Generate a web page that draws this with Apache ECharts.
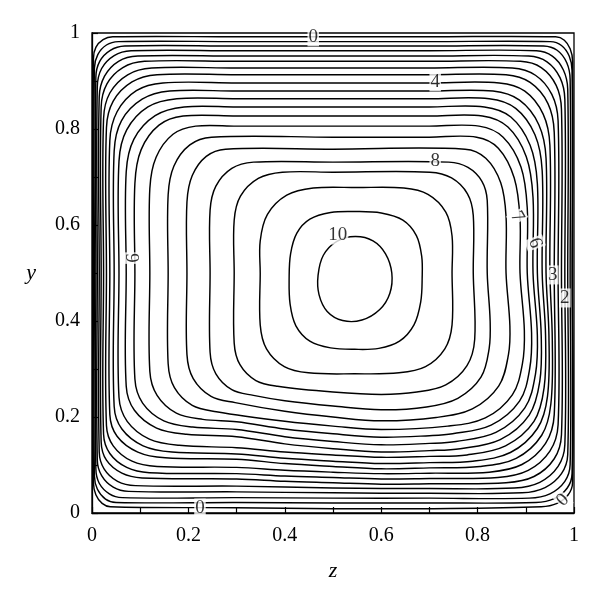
<!DOCTYPE html>
<html><head><meta charset="utf-8">
<script src="https://cdn.jsdelivr.net/npm/echarts@6/dist/echarts.min.js"></script>
<style>html,body{margin:0;padding:0;background:#fff}#c{width:600px;height:603px}</style>
</head><body><div id="c"></div>
<script>
// contour levels (velocity) and the traced contour loops, points are [z, y]
const levels = [0,0.5,1,1.5,2,2.5,3,3.5,4,4.5,5,5.5,6,6.5,7,7.5,8,8.5,9,9.5,10];
const c00 = [[0.5,0.992],[0.7,0.992],[0.962,0.992],[0.98,0.985],[0.992,0.967],[0.997,0.942],[0.997,0.5],[0.997,0.063],[0.988,0.038],[0.965,0.02],[0.932,0.013],[0.7,0.009],[0.5,0.009],[0.3,0.011],[0.038,0.013],[0.021,0.02],[0.008,0.038],[0.003,0.063],[0.003,0.5],[0.003,0.947],[0.008,0.97],[0.023,0.986],[0.043,0.992],[0.3,0.992]];
const c05 = [[0.5,0.982],[0.7,0.982],[0.951,0.982],[0.974,0.974],[0.99,0.952],[0.996,0.922],[0.996,0.5],[0.996,0.082],[0.986,0.052],[0.959,0.03],[0.921,0.022],[0.7,0.021],[0.5,0.021],[0.3,0.022],[0.05,0.022],[0.028,0.029],[0.011,0.05],[0.005,0.077],[0.005,0.5],[0.005,0.927],[0.012,0.955],[0.03,0.975],[0.055,0.982],[0.3,0.982]];
const c10 = [[0.5,0.973],[0.7,0.973],[0.937,0.973],[0.965,0.964],[0.985,0.938],[0.992,0.903],[0.992,0.5],[0.992,0.101],[0.981,0.066],[0.95,0.04],[0.907,0.031],[0.7,0.031],[0.5,0.031],[0.3,0.032],[0.063,0.032],[0.036,0.04],[0.015,0.062],[0.008,0.092],[0.008,0.5],[0.008,0.908],[0.016,0.941],[0.038,0.964],[0.068,0.973],[0.3,0.973]];
const c15 = [[0.5,0.963],[0.7,0.963],[0.922,0.963],[0.955,0.952],[0.978,0.923],[0.987,0.883],[0.987,0.5],[0.987,0.122],[0.974,0.082],[0.94,0.053],[0.892,0.042],[0.7,0.041],[0.5,0.042],[0.3,0.044],[0.076,0.045],[0.044,0.054],[0.02,0.078],[0.011,0.11],[0.011,0.5],[0.011,0.888],[0.02,0.926],[0.046,0.953],[0.081,0.963],[0.3,0.963]];
const c20 = [[0.5,0.952],[0.7,0.952],[0.906,0.952],[0.944,0.94],[0.971,0.907],[0.981,0.862],[0.981,0.5],[0.981,0.142],[0.967,0.097],[0.929,0.064],[0.876,0.052],[0.7,0.051],[0.5,0.052],[0.3,0.056],[0.09,0.057],[0.053,0.066],[0.025,0.092],[0.015,0.127],[0.015,0.5],[0.015,0.867],[0.026,0.91],[0.055,0.941],[0.095,0.952],[0.3,0.952]];
const c25 = [[0.5,0.941],[0.7,0.941],[0.889,0.941],[0.932,0.928],[0.963,0.891],[0.974,0.841],[0.974,0.5],[0.974,0.163],[0.959,0.113],[0.917,0.076],[0.859,0.063],[0.7,0.061],[0.6,0.06],[0.5,0.063],[0.4,0.066],[0.3,0.071],[0.104,0.073],[0.062,0.083],[0.03,0.11],[0.019,0.148],[0.019,0.5],[0.019,0.846],[0.031,0.894],[0.064,0.928],[0.109,0.941],[0.3,0.941]];
const c30 = [[0.5,0.927],[0.7,0.927],[0.872,0.927],[0.92,0.912],[0.954,0.872],[0.967,0.817],[0.967,0.5],[0.967,0.184],[0.95,0.129],[0.905,0.089],[0.842,0.074],[0.7,0.072],[0.6,0.071],[0.5,0.074],[0.4,0.077],[0.3,0.082],[0.119,0.084],[0.072,0.095],[0.037,0.124],[0.024,0.164],[0.024,0.5],[0.024,0.822],[0.037,0.875],[0.074,0.913],[0.124,0.927],[0.3,0.927]];
const c35 = [[0.5,0.913],[0.7,0.913],[0.859,0.913],[0.909,0.897],[0.946,0.853],[0.959,0.793],[0.959,0.5],[0.959,0.205],[0.941,0.145],[0.892,0.101],[0.824,0.085],[0.7,0.083],[0.6,0.082],[0.5,0.085],[0.4,0.089],[0.3,0.095],[0.135,0.097],[0.083,0.108],[0.044,0.14],[0.03,0.182],[0.03,0.5],[0.03,0.803],[0.044,0.858],[0.083,0.898],[0.135,0.913],[0.3,0.913]];
const c40 = [[0.5,0.896],[0.7,0.896],[0.845,0.896],[0.898,0.879],[0.936,0.831],[0.95,0.766],[0.95,0.5],[0.955,0.36],[0.952,0.227],[0.933,0.162],[0.88,0.114],[0.805,0.097],[0.7,0.094],[0.6,0.092],[0.5,0.097],[0.4,0.103],[0.3,0.112],[0.152,0.115],[0.095,0.127],[0.052,0.16],[0.037,0.205],[0.037,0.5],[0.037,0.776],[0.052,0.836],[0.092,0.88],[0.147,0.896],[0.3,0.896]];
const c45 = [[0.5,0.879],[0.7,0.879],[0.832,0.879],[0.887,0.86],[0.927,0.809],[0.942,0.739],[0.942,0.5],[0.948,0.37],[0.945,0.243],[0.924,0.176],[0.868,0.126],[0.79,0.108],[0.7,0.105],[0.6,0.103],[0.5,0.108],[0.4,0.114],[0.3,0.123],[0.166,0.127],[0.106,0.14],[0.062,0.175],[0.046,0.222],[0.046,0.5],[0.046,0.754],[0.061,0.817],[0.104,0.862],[0.161,0.879],[0.3,0.879]];
const c50 = [[0.5,0.863],[0.7,0.863],[0.824,0.863],[0.879,0.843],[0.919,0.788],[0.934,0.713],[0.934,0.5],[0.941,0.37],[0.938,0.261],[0.917,0.191],[0.858,0.14],[0.778,0.121],[0.7,0.118],[0.6,0.116],[0.5,0.121],[0.4,0.127],[0.3,0.136],[0.181,0.141],[0.119,0.154],[0.073,0.191],[0.056,0.241],[0.056,0.5],[0.056,0.733],[0.072,0.798],[0.116,0.846],[0.176,0.863],[0.3,0.863]];
const c55 = [[0.5,0.846],[0.7,0.846],[0.814,0.846],[0.869,0.825],[0.909,0.766],[0.924,0.686],[0.924,0.5],[0.932,0.37],[0.929,0.274],[0.907,0.204],[0.847,0.153],[0.764,0.134],[0.7,0.13],[0.6,0.127],[0.5,0.134],[0.4,0.144],[0.3,0.159],[0.196,0.164],[0.134,0.177],[0.088,0.214],[0.071,0.264],[0.071,0.5],[0.071,0.711],[0.087,0.779],[0.131,0.828],[0.191,0.846],[0.3,0.846]];
const c60 = [[0.5,0.827],[0.7,0.827],[0.81,0.827],[0.863,0.804],[0.901,0.742],[0.915,0.657],[0.915,0.5],[0.924,0.37],[0.92,0.289],[0.898,0.219],[0.838,0.168],[0.755,0.149],[0.7,0.145],[0.6,0.142],[0.5,0.149],[0.4,0.159],[0.3,0.174],[0.209,0.179],[0.149,0.192],[0.105,0.229],[0.089,0.279],[0.089,0.5],[0.089,0.687],[0.102,0.757],[0.139,0.808],[0.189,0.827],[0.3,0.827]];
const c65 = [[0.5,0.806],[0.7,0.806],[0.803,0.806],[0.853,0.783],[0.89,0.721],[0.903,0.636],[0.903,0.5],[0.912,0.375],[0.908,0.3],[0.887,0.233],[0.828,0.183],[0.748,0.165],[0.7,0.161],[0.6,0.158],[0.5,0.165],[0.4,0.175],[0.3,0.19],[0.23,0.195],[0.175,0.208],[0.135,0.245],[0.12,0.295],[0.12,0.5],[0.12,0.676],[0.133,0.741],[0.168,0.789],[0.215,0.806],[0.3,0.806]];
const c70 = [[0.5,0.783],[0.7,0.783],[0.798,0.783],[0.843,0.76],[0.876,0.698],[0.888,0.613],[0.888,0.5],[0.897,0.38],[0.893,0.311],[0.872,0.246],[0.816,0.198],[0.738,0.181],[0.6,0.174],[0.5,0.181],[0.4,0.191],[0.258,0.211],[0.208,0.224],[0.171,0.261],[0.158,0.311],[0.158,0.5],[0.158,0.663],[0.17,0.723],[0.203,0.767],[0.248,0.783]];
const c75 = [[0.5,0.758],[0.774,0.758],[0.817,0.739],[0.848,0.688],[0.859,0.618],[0.859,0.5],[0.867,0.39],[0.864,0.33],[0.844,0.265],[0.789,0.217],[0.714,0.199],[0.6,0.192],[0.5,0.2],[0.4,0.212],[0.297,0.23],[0.247,0.243],[0.21,0.28],[0.197,0.33],[0.197,0.5],[0.197,0.648],[0.208,0.703],[0.237,0.743],[0.277,0.758]];
const c80 = [[0.5,0.731],[0.74,0.731],[0.78,0.72],[0.809,0.691],[0.82,0.651],[0.82,0.5],[0.826,0.4],[0.824,0.343],[0.807,0.283],[0.759,0.239],[0.694,0.221],[0.6,0.215],[0.5,0.223],[0.4,0.234],[0.335,0.245],[0.29,0.257],[0.257,0.29],[0.245,0.335],[0.245,0.5],[0.245,0.631],[0.257,0.681],[0.29,0.718],[0.335,0.731]];
const c85 = [[0.5,0.71],[0.701,0.71],[0.746,0.698],[0.779,0.665],[0.791,0.62],[0.791,0.5],[0.794,0.362],[0.778,0.307],[0.734,0.267],[0.674,0.252],[0.6,0.247],[0.5,0.252],[0.385,0.264],[0.34,0.276],[0.307,0.309],[0.295,0.354],[0.295,0.5],[0.295,0.61],[0.308,0.66],[0.345,0.697],[0.395,0.71]];
const c90 = [[0.55,0.678],[0.647,0.677],[0.697,0.664],[0.734,0.627],[0.747,0.577],[0.747,0.5],[0.747,0.392],[0.732,0.342],[0.692,0.305],[0.637,0.292],[0.545,0.29],[0.449,0.292],[0.399,0.305],[0.362,0.342],[0.349,0.392],[0.349,0.5],[0.349,0.567],[0.364,0.622],[0.404,0.662],[0.459,0.677]];
const c95 = [[0.547,0.628],[0.6,0.625],[0.645,0.61],[0.673,0.578],[0.684,0.535],[0.685,0.49],[0.682,0.44],[0.668,0.392],[0.638,0.358],[0.595,0.343],[0.545,0.341],[0.495,0.344],[0.452,0.358],[0.423,0.39],[0.411,0.435],[0.409,0.49],[0.412,0.54],[0.425,0.583],[0.452,0.612],[0.495,0.626]];
const c100 = [[0.546,0.576],[0.583,0.567],[0.609,0.54],[0.622,0.5],[0.618,0.458],[0.597,0.424],[0.56,0.402],[0.52,0.401],[0.488,0.42],[0.471,0.455],[0.469,0.495],[0.48,0.537],[0.508,0.566]];
const contours = [c00,c05,c10,c15,c20,c25,c30,c35,c40,c45,c50,c55,c60,c65,c70,c75,c80,c85,c90,c95,c100];

// contour labels as printed on the plot
const labelText = ['0','4','8','10','7','6','3','2','6','0','0'];
const labelZ    = [0.459,0.712,0.712,0.51,0.882,0.919,0.956,0.981,0.087,0.224,0.977];
const labelY    = [0.992,0.898,0.733,0.579,0.617,0.5625,0.496,0.448,0.531,0.0104,0.027];
const labelRot  = [0,0,0,0,-60,-70,0,0,90,0,45];

const FONT = 'Liberation Serif';

// each closed contour is drawn as a smooth closed curve through its points,
// positioned with the cartesian axes (api.coord)
const contourSeries = {
  type: 'custom', name: 'contours', silent: true, z: 2,
  data: levels.map((lv, i) => ({name: String(lv), value: contours[i][0]})),
  renderItem: function (params, api) {
    const pts = contours[params.dataIndex].map(p => api.coord(p));
    return {
      type: 'polygon',
      shape: {points: pts, smooth: 0.35},
      style: {fill: 'none', stroke: '#000', lineWidth: 1.45}
    };
  }
};

const labelSeries = {
  type: 'scatter', symbolSize: 0, z: 10, silent: true,
  data: labelText.map((t, i) => ({
    name: t, value: [labelZ[i], labelY[i]],
    label: {rotate: labelRot[i]}
  })),
  label: {
    show: true, position: 'inside', formatter: '{b}',
    fontFamily: FONT, fontSize: 19, color: '#000',
    backgroundColor: '#fff', padding: [0, 1]
  }
};

const chart = echarts.init(document.getElementById('c'), null, {renderer: 'canvas'});
chart.setOption({
  animation: false,
  backgroundColor: '#fff',
  grid: {left: 92, top: 33, width: 482, height: 480, show: true, borderColor: '#000', borderWidth: 1.3, backgroundColor: 'transparent'},
  xAxis: {
    type: 'value', min: 0, max: 1, interval: 0.2,
    name: 'z', nameLocation: 'middle', nameGap: 47,
    nameTextStyle: {fontFamily: FONT, fontStyle: 'italic', fontSize: 22, color: '#000'},
    axisLine: {show: true, lineStyle: {color: '#000', width: 1.3}},
    axisTick: {show: true, inside: true, length: 6, lineStyle: {color: '#000', width: 1.2}},
    minorTick: {show: true, splitNumber: 2, length: 6, lineStyle: {color: '#000', width: 1.2}},
    axisLabel: {margin: 13, fontFamily: FONT, fontSize: 20, color: '#000'},
    splitLine: {show: false}
  },
  yAxis: {
    type: 'value', min: 0, max: 1, interval: 0.2,
    name: 'y', nameLocation: 'middle', nameGap: 56, nameRotate: 0,
    nameTextStyle: {fontFamily: FONT, fontStyle: 'italic', fontSize: 22, color: '#000'},
    axisLine: {show: true, lineStyle: {color: '#000', width: 1.3}},
    axisTick: {show: true, inside: true, length: 6, lineStyle: {color: '#000', width: 1.2}},
    minorTick: {show: true, splitNumber: 2, length: 6, lineStyle: {color: '#000', width: 1.2}},
    axisLabel: {margin: 12, fontFamily: FONT, fontSize: 20, color: '#000'},
    splitLine: {show: false}
  },
  series: [contourSeries, labelSeries]
});
</script>
</body></html>
